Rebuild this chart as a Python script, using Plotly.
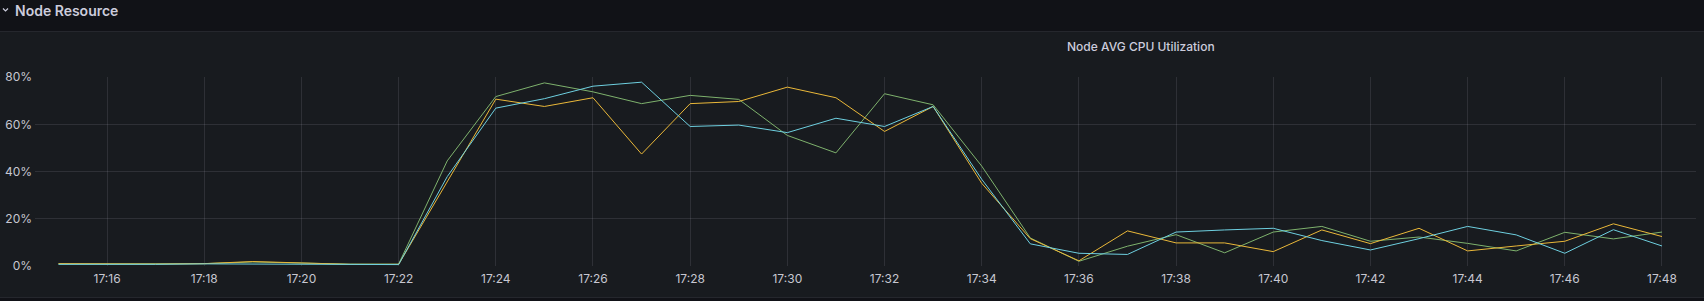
import plotly.graph_objects as go
import pandas as pd

# ---- data ----
times = pd.date_range("2024-01-01 17:15", "2024-01-01 17:48", freq="1min")
green = [0.8, 0.8, 0.8, 0.9, 1.6, 1.0, 0.7, 0.7,
         44.5, 71.8, 77.6, 73.8, 68.8, 72.3, 70.6, 55.3, 47.9, 73.0, 68.3, 42.3,
         11.8, 1.9, 8.3, 13.2, 5.5, 14.3, 16.7, 10.4, 12.2, 9.5, 6.3, 14.2, 11.4, 14.3]
yellow = [0.9, 0.7, 0.7, 0.9, 1.8, 1.2, 0.6, 0.6,
          35.7, 70.7, 67.6, 71.3, 47.4, 68.8, 69.7, 75.8, 71.3, 57.0, 67.6, 35.0,
          11.5, 2.1, 14.8, 9.7, 9.7, 6.0, 15.2, 9.4, 15.9, 6.3, 8.4, 10.4, 17.8, 12.4]
cyan = [0.6, 0.5, 0.6, 0.8, 0.8, 0.7, 0.5, 0.5,
        37.8, 66.9, 70.9, 76.2, 77.9, 59.1, 59.7, 56.5, 62.6, 59.1, 67.6, 36.7,
        9.3, 5.3, 4.8, 14.3, 15.2, 15.9, 10.7, 6.7, 11.5, 16.7, 13.1, 5.3, 15.3, 8.4]
y_ticks = [0, 20, 40, 60, 80]
y_labels = [f"{v}%" for v in y_ticks]

W, H = 1704, 301
L, R, T, B = 35, 8, 77, 35
PW, PH = W - L - R, H - T - B

def px(x):
    return (x - L) / PW

def py(y):
    return (H - B - y) / PH

fig = go.Figure()
for name, vals, col in [("green", green, "#7EB26D"), ("yellow", yellow, "#EAB839"), ("cyan", cyan, "#6ED0E0")]:
    fig.add_trace(go.Scatter(x=times, y=vals, mode="lines", name=name,
                             line=dict(color=col, width=1)))

grid = "rgba(204,204,220,0.12)"
fig.update_layout(
    width=W, height=H,
    margin=dict(l=L, r=R, t=T, b=B, autoexpand=False),
    paper_bgcolor="#181b1f", plot_bgcolor="#181b1f",
    showlegend=False,
    font=dict(family="Inter, Roboto, sans-serif", color="#ccccdc", size=12),
    xaxis=dict(type="date",
               range=["2024-01-01 17:14:31", "2024-01-01 17:48:42"],
               tick0="2024-01-01 17:16", dtick=120000, tickformat="%H:%M",
               showgrid=True, gridcolor=grid, gridwidth=1, zeroline=False,
               showline=False, ticks="", ticklabelstandoff=4,
               tickfont=dict(size=12, color="#c7c7d1")),
    yaxis=dict(range=[-0.1, 80.1], tickmode="array", tickvals=y_ticks, ticktext=y_labels,
               showgrid=True, gridcolor=grid, gridwidth=1, zeroline=False,
               showline=False, ticks="", ticklabelstandoff=2,
               tickfont=dict(size=12, color="#c7c7d1")),
)

# header band
fig.add_shape(type="rect", xref="paper", yref="paper", layer="below",
              x0=px(0), x1=px(W), y0=py(31), y1=py(0),
              fillcolor="#111217", line=dict(width=0))
fig.add_shape(type="line", xref="paper", yref="paper",
              x0=px(0), x1=px(W), y0=py(31.5), y1=py(31.5),
              line=dict(color="#25272d", width=1))
fig.add_shape(type="line", xref="paper", yref="paper",
              x0=px(0), x1=px(W), y0=py(297.5), y1=py(297.5),
              line=dict(color="#25272d", width=1))
fig.add_shape(type="rect", xref="paper", yref="paper", layer="below",
              x0=px(0), x1=px(W), y0=py(H), y1=py(298),
              fillcolor="#111217", line=dict(width=0))
# chevron
fig.add_shape(type="path", xref="paper", yref="paper",
              path=f"M {px(3)},{py(8.5)} L {px(5.5)},{py(11)} L {px(8)},{py(8.5)}",
              line=dict(color="#ccccdc", width=1.2))

fig.add_annotation(text="Node Resource", xref="paper", yref="paper",
                   x=px(13), y=py(10), xanchor="left", yanchor="middle",
                   showarrow=False,
                   font=dict(family="Inter, sans-serif", size=14, color="#ccccdc", weight=600))
fig.add_annotation(text="Node AVG CPU Utilization", xref="paper", yref="paper",
                   x=px(1141), y=py(46), xanchor="center", yanchor="middle",
                   showarrow=False,
                   font=dict(family="Inter, sans-serif", size=12, color="#ccccdc", weight=500))

fig.write_html("out.html")
